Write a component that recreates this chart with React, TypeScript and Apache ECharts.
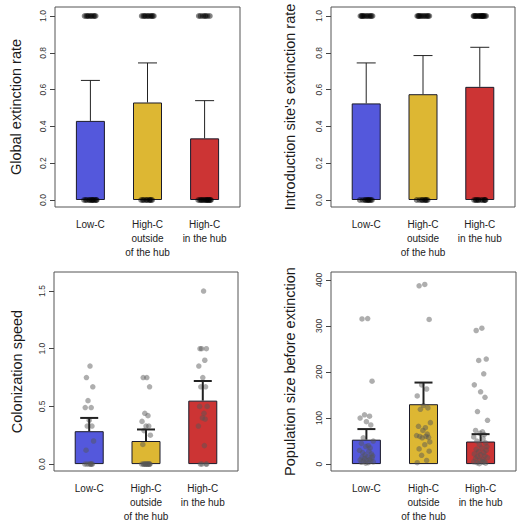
import React, { useEffect, useRef } from "react";
import * as echarts from "echarts";

// ---- data ----
const categories = ["Low-C", "High-C\noutside\nof the hub", "High-C\nin the hub"];
const barColors = ["#5458dc", "#ddb733", "#cc3434"];

// Panel A: global extinction rate
const globalMean = [0.43, 0.53, 0.335];
const globalUpper = [0.65, 0.745, 0.54];
const globalLow = [1, 1, 1, 1, 1, 1, 1, 1, 1, 0, 0, 0, 0, 0, 0, 0, 0, 0, 0, 0, 0];
const globalOut = [1, 1, 1, 1, 1, 1, 1, 1, 1, 1, 0, 0, 0, 0, 0, 0, 0, 0, 0];
const globalHub = [1, 1, 1, 1, 1, 1, 1, 0, 0, 0, 0, 0, 0, 0, 0, 0, 0, 0, 0, 0, 0];

// Panel B: introduction site's extinction rate
const introMean = [0.525, 0.575, 0.615];
const introUpper = [0.745, 0.785, 0.83];
const introLow = [1, 1, 1, 1, 1, 1, 1, 1, 1, 1, 1, 0, 0, 0, 0, 0, 0, 0, 0, 0, 0];
const introOut = [1, 1, 1, 1, 1, 1, 1, 1, 1, 1, 1, 0, 0, 0, 0, 0, 0, 0, 0];
const introHub = [1, 1, 1, 1, 1, 1, 1, 1, 1, 1, 1, 1, 1, 1, 1, 1, 0, 0, 0, 0, 0, 0, 0, 0, 0, 0];

// Panel C: colonization speed
const speedMean = [0.285, 0.2, 0.55];
const speedUpper = [0.4, 0.3, 0.72];
const speedLow = [0.85, 0.75, 0.67, 0.55, 0.49, 0.49, 0.38, 0.33, 0.33, 0.2, 0.12, 0, 0, 0, 0, 0, 0, 0];
const speedOut = [0.75, 0.75, 0.67, 0.44, 0.42, 0.37, 0.33, 0.33, 0.29, 0.25, 0.17, 0, 0, 0, 0, 0, 0, 0, 0, 0, 0, 0, 0, 0];
const speedHub = [1.5, 1.0, 1.0, 1.0, 0.9, 0.85, 0.75, 0.67, 0.67, 0.5, 0.5, 0.44, 0.4, 0.39, 0.33, 0.16, 0, 0, 0, 0];

// Panel D: population size before extinction
const popMean = [53, 130, 49];
const popUpper = [76, 177, 65];
const popLow = [316, 315, 180, 107, 104, 100, 92, 85, 57, 50, 45, 40, 38, 35, 30, 28, 25, 22, 20, 18, 16, 15, 14, 12, 10, 9, 8, 7, 6, 5, 4, 3, 2];
const popOut = [390, 387, 314, 172, 163, 148, 127, 122, 119, 90, 82, 79, 73, 65, 62, 60, 60, 58, 57, 48, 42, 33, 28, 19, 8, 3];
const popHub = [295, 290, 228, 225, 196, 172, 157, 145, 114, 95, 73, 70, 67, 64, 59, 55, 50, 46, 42, 38, 35, 32, 30, 27, 25, 22, 20, 18, 16, 14, 12, 10, 8, 6, 5, 4, 3, 2, 1];

const yTicksRate = [0, 0.2, 0.4, 0.6, 0.8, 1.0];
const yTicksSpeed = [0, 0.5, 1.0, 1.5];
const yTicksPop = [0, 100, 200, 300, 400];

// horizontal jitter pattern (layout only)
const jitter = [0.02, -0.07, 0.09, -0.03, 0.05, -0.1, 0.0, 0.07, -0.05, 0.11, -0.08, 0.03, -0.01, 0.06, -0.11, 0.04, -0.06, 0.08, -0.02, 0.1];

const FONT = "'Liberation Sans', Arial, Helvetica, sans-serif";

type Panel = {
  title: string;
  mean: number[];
  upper: number[];
  points: number[][];
  ticks: number[];
  min: number;
  max: number;
  digits: number;
  grid: { left: number; top: number; width: number; height: number };
  nameGap: number;
  dotColor: string;
  dotSize: number;
  errWidth: number;
  spread: number;
};

export default function App() {
  const ref = useRef<HTMLDivElement>(null);

  useEffect(() => {
    if (!ref.current) return;
    const chart = echarts.init(ref.current, undefined, { renderer: "svg" });

    const panels: Panel[] = [
      {
        title: "Global extinction rate",
        mean: globalMean,
        upper: globalUpper,
        points: [globalLow, globalOut, globalHub],
        ticks: yTicksRate,
        min: -0.038,
        max: 1.049,
        digits: 1,
        grid: { left: 55, top: 7, width: 185, height: 200 },
        nameGap: 32,
        dotColor: "rgba(0,0,0,0.6)",
        dotSize: 6,
        errWidth: 1,
        spread: 1,
      },
      {
        title: "Introduction site's extinction rate",
        mean: introMean,
        upper: introUpper,
        points: [introLow, introOut, introHub],
        ticks: yTicksRate,
        min: -0.038,
        max: 1.049,
        digits: 1,
        grid: { left: 331, top: 7, width: 184, height: 200 },
        nameGap: 34,
        dotColor: "rgba(0,0,0,0.6)",
        dotSize: 6,
        errWidth: 1,
        spread: 1,
      },
      {
        title: "Colonization speed",
        mean: speedMean,
        upper: speedUpper,
        points: [speedLow, speedOut, speedHub],
        ticks: yTicksSpeed,
        min: -0.06,
        max: 1.665,
        digits: 1,
        grid: { left: 54, top: 272, width: 184, height: 199 },
        nameGap: 30,
        dotColor: "rgba(85,85,85,0.6)",
        dotSize: 5.5,
        errWidth: 2,
        spread: 0.7,
      },
      {
        title: "Population size before extinction",
        mean: popMean,
        upper: popUpper,
        points: [popLow, popOut, popHub],
        ticks: yTicksPop,
        min: -15,
        max: 417,
        digits: 0,
        grid: { left: 331, top: 272, width: 185, height: 199 },
        nameGap: 34,
        dotColor: "rgba(85,85,85,0.6)",
        dotSize: 5.5,
        errWidth: 2,
        spread: 1.1,
      },
    ];

    const grid: any[] = [];
    const xAxis: any[] = [];
    const yAxis: any[] = [];
    const series: any[] = [];

    panels.forEach((p, i) => {
      grid.push({
        ...p.grid,
        show: true,
        borderColor: "#555",
        borderWidth: 1,
        backgroundColor: "transparent",
        containLabel: false,
      });
      xAxis.push({
        type: "value",
        gridIndex: i,
        min: 0.38,
        max: 3.62,
        axisLine: { show: false },
        axisTick: { show: false },
        splitLine: { show: false },
        axisLabel: {
          customValues: [1, 2, 3],
          formatter: (v: number) => categories[Math.round(v) - 1] || "",
          margin: 10,
          fontSize: 10,
          lineHeight: 14,
          color: "#222",
          fontFamily: FONT,
          verticalAlign: "top",
        },
      });
      yAxis.push({
        type: "value",
        gridIndex: i,
        min: p.min,
        max: p.max,
        axisLine: { show: false },
        axisTick: {
          show: true,
          length: 5,
          customValues: p.ticks,
          lineStyle: { color: "#444", width: 1 },
        },
        splitLine: { show: false },
        axisLabel: {
          customValues: p.ticks,
          formatter: (v: number) => v.toFixed(p.digits),
          rotate: 90,
          margin: 8,
          fontSize: 8.5,
          color: "#333",
          fontFamily: FONT,
        },
        name: p.title,
        nameLocation: "middle",
        nameRotate: 90,
        nameGap: p.nameGap,
        nameTextStyle: { fontSize: 14.5, color: "#1a1a1a", fontFamily: FONT },
      });

      series.push({
        type: "bar",
        xAxisIndex: i,
        yAxisIndex: i,
        barWidth: 29,
        data: p.mean.map((m, k) => ({
          value: [k + 1, m],
          itemStyle: { color: barColors[k], borderColor: "#1a1a2a", borderWidth: 1 },
        })),
        z: 2,
      });

      const dots: number[][] = [];
      p.points.forEach((arr, k) => {
        arr.forEach((v, j) => {
          dots.push([k + 1 + jitter[j % jitter.length] * p.spread, v]);
        });
      });
      series.push({
        type: "scatter",
        xAxisIndex: i,
        yAxisIndex: i,
        symbolSize: p.dotSize,
        itemStyle: { color: p.dotColor },
        data: dots,
        z: 3,
      });

      series.push({
        type: "custom",
        xAxisIndex: i,
        yAxisIndex: i,
        encode: { x: 0, y: [1, 2] },
        data: p.mean.map((m, k) => [k + 1, m, p.upper[k]]),
        renderItem: (params: any, api: any) => {
          const x = api.value(0);
          const p0 = api.coord([x, api.value(1)]);
          const p1 = api.coord([x, api.value(2)]);
          const half = p.errWidth > 1 ? 9 : 9.5;
          const style = { stroke: "#222", lineWidth: p.errWidth };
          return {
            type: "group",
            children: [
              { type: "line", shape: { x1: p0[0], y1: p0[1], x2: p1[0], y2: p1[1] }, style },
              { type: "line", shape: { x1: p1[0] - half, y1: p1[1], x2: p1[0] + half, y2: p1[1] }, style },
            ],
          };
        },
        z: 4,
      });
    });

    chart.setOption({
      animation: false,
      backgroundColor: "#ffffff",
      textStyle: { fontFamily: FONT },
      grid,
      xAxis,
      yAxis,
      series,
    });

    return () => chart.dispose();
  }, []);

  return (
    <div
      ref={ref}
      style={{ position: "absolute", left: 0, top: 0, width: 519, height: 524 }}
    />
  );
}
